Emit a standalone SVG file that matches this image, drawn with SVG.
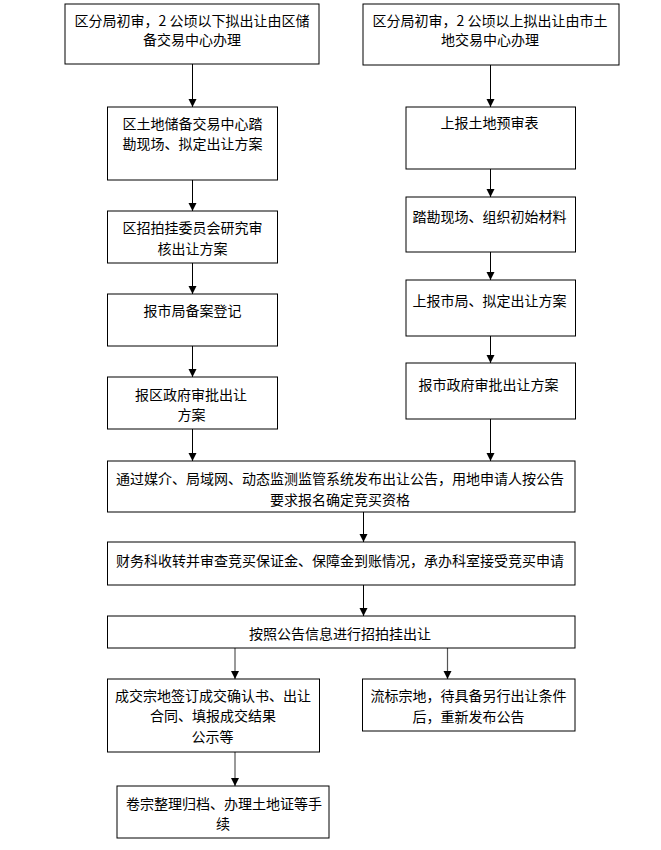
<svg xmlns="http://www.w3.org/2000/svg" width="661" height="850" viewBox="0 0 661 850">
<style>
  .box { fill: #ffffff; stroke: #000000; stroke-width: 1; }
  .t { font-family: "Noto Sans CJK SC", "Liberation Sans", sans-serif; font-size: 14px; fill: #000000; text-anchor: middle; }
  .c { stroke: #000000; stroke-width: 1; fill: none; marker-end: url(#ah); }
  .g { stroke: #555555; stroke-width: 1.2; fill: none; marker-end: url(#ah); }
</style>
<defs>
  <marker id="ah" markerUnits="userSpaceOnUse" markerWidth="8" markerHeight="9" refX="8" refY="4" orient="auto">
    <path d="M0,0 L8,4 L0,8 z" fill="#000000"/>
  </marker>
</defs>
<rect width="661" height="850" fill="#ffffff"/>

<g id="connectors">
  <line class="c" x1="192.5" y1="64" x2="192.5" y2="107"/>
  <line class="c" x1="192.5" y1="180" x2="192.5" y2="211"/>
  <line class="c" x1="192.5" y1="263" x2="192.5" y2="294"/>
  <line class="c" x1="192.5" y1="346" x2="192.5" y2="377"/>
  <line class="c" x1="192.5" y1="429" x2="192.5" y2="461"/>
  <line class="c" x1="490.5" y1="65" x2="490.5" y2="107"/>
  <line class="c" x1="490.5" y1="169" x2="490.5" y2="197"/>
  <line class="c" x1="490.5" y1="252" x2="490.5" y2="280"/>
  <line class="c" x1="490.5" y1="336" x2="490.5" y2="363"/>
  <line class="c" x1="490.5" y1="419" x2="490.5" y2="461"/>
  <line class="c" x1="363.5" y1="512" x2="363.5" y2="542"/>
  <line class="c" x1="363.5" y1="585" x2="363.5" y2="616"/>
  <line class="g" x1="235" y1="648" x2="235" y2="679"/>
  <line class="g" x1="447.5" y1="648" x2="447.5" y2="679"/>
  <line class="g" x1="235" y1="752" x2="235" y2="786"/>
</g>

<g id="n1">
  <rect class="box" x="65" y="4" width="254" height="60"/>
  <text class="t" x="192" y="26">区分局初审，2 公顷以下拟出让由区储</text>
  <text class="t" x="192" y="45">备交易中心办理</text>
</g>
<g id="n2">
  <rect class="box" x="363" y="4" width="256" height="61"/>
  <text class="t" x="490" y="26">区分局初审，2 公顷以上拟出让由市土</text>
  <text class="t" x="490" y="45">地交易中心办理</text>
</g>
<g id="nA">
  <rect class="box" x="107.5" y="107" width="170" height="73"/>
  <text class="t" x="192.5" y="129">区土地储备交易中心踏</text>
  <text class="t" x="192.5" y="149">勘现场、拟定出让方案</text>
</g>
<g id="nB">
  <rect class="box" x="107.5" y="211" width="170" height="52"/>
  <text class="t" x="192.5" y="233">区招拍挂委员会研究审</text>
  <text class="t" x="192.5" y="254">核出让方案</text>
</g>
<g id="nC">
  <rect class="box" x="107.5" y="294" width="170" height="52"/>
  <text class="t" x="192.5" y="316">报市局备案登记</text>
</g>
<g id="nD">
  <rect class="box" x="107.5" y="377" width="170" height="52"/>
  <text class="t" x="191" y="400">报区政府审批出让</text>
  <text class="t" x="191.5" y="420">方案</text>
</g>
<g id="nE">
  <rect class="box" x="406" y="107" width="169.5" height="62"/>
  <text class="t" x="489.5" y="128">上报土地预审表</text>
</g>
<g id="nF">
  <rect class="box" x="406" y="197" width="169.5" height="55"/>
  <text class="t" x="489.5" y="222">踏勘现场、组织初始材料</text>
</g>
<g id="nG">
  <rect class="box" x="406" y="280" width="169.5" height="56"/>
  <text class="t" x="489.5" y="306">上报市局、拟定出让方案</text>
</g>
<g id="nH">
  <rect class="box" x="406" y="363" width="169.5" height="56"/>
  <text class="t" x="488.5" y="390">报市政府审批出让方案</text>
</g>
<g id="nI">
  <rect class="box" x="107.5" y="461" width="467.5" height="51"/>
  <text class="t" x="340" y="484">通过媒介、局域网、动态监测监管系统发布出让公告，用地申请人按公告</text>
  <text class="t" x="340" y="505">要求报名确定竞买资格</text>
</g>
<g id="nJ">
  <rect class="box" x="107.5" y="542" width="467.5" height="43"/>
  <text class="t" x="340" y="566">财务科收转并审查竞买保证金、保障金到账情况，承办科室接受竞买申请</text>
</g>
<g id="nK">
  <rect class="box" x="107.5" y="616" width="467.5" height="32"/>
  <text class="t" x="340" y="639">按照公告信息进行招拍挂出让</text>
</g>
<g id="nL">
  <rect class="box" x="107.5" y="679" width="212" height="73"/>
  <text class="t" x="213" y="701">成交宗地签订成交确认书、出让</text>
  <text class="t" x="213" y="721">合同、填报成交结果</text>
  <text class="t" x="212.5" y="742">公示等</text>
</g>
<g id="nM">
  <rect class="box" x="362.5" y="679" width="212.5" height="52"/>
  <text class="t" x="468.5" y="701">流标宗地，待具备另行出让条件</text>
  <text class="t" x="468.5" y="722">后，重新发布公告</text>
</g>
<g id="nN">
  <rect class="box" x="117" y="786" width="212" height="52"/>
  <text class="t" x="224" y="809">卷宗整理归档、办理土地证等手</text>
  <text class="t" x="223" y="829">续</text>
</g>
</svg>
